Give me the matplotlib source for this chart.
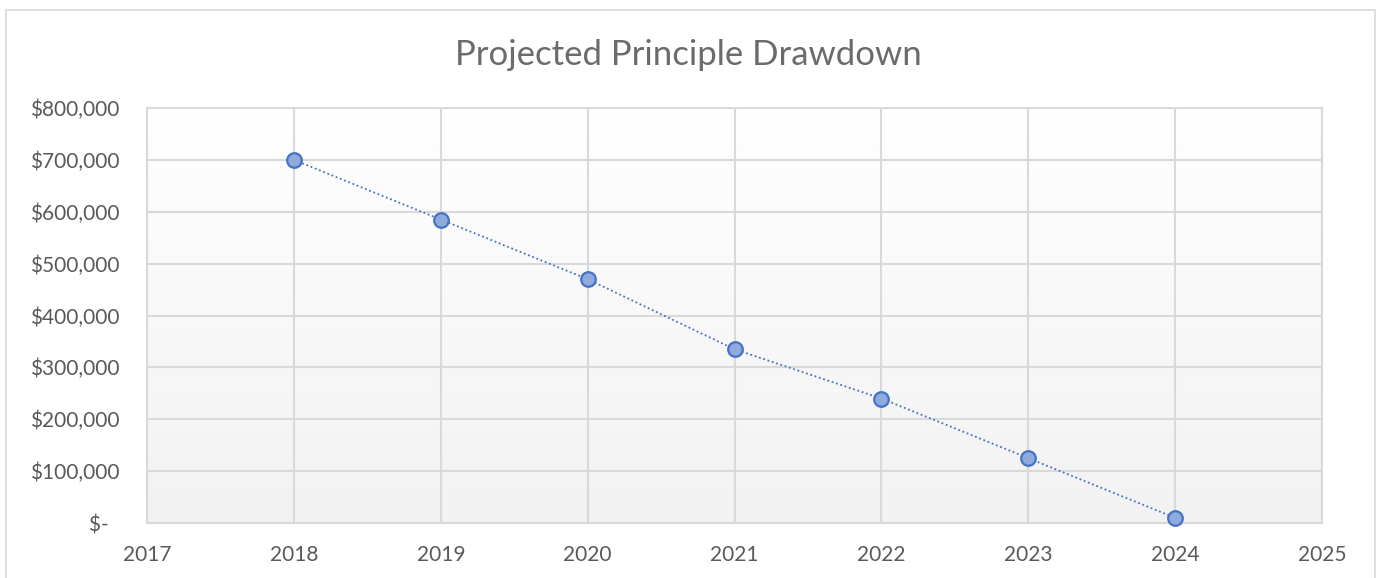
import matplotlib
matplotlib.use("Agg")
import matplotlib.pyplot as plt
import matplotlib.ticker as ticker
from matplotlib.patches import Rectangle
import numpy as np

YEARS = [2018, 2019, 2020, 2021, 2022, 2023, 2024]
PRINCIPLE = [700000, 585000, 470000, 335000, 240000, 125000, 10000]
X_TICKS = [2017, 2018, 2019, 2020, 2021, 2022, 2023, 2024, 2025]
Y_TICKS = [0, 100000, 200000, 300000, 400000, 500000, 600000, 700000, 800000]

GRID = "#d9d9d9"
TEXT = "#595959"


def money(v, _):
    if v == 0:
        return "$-  "
    return f"${v:,.0f}"


plt.rcParams["font.family"] = ["Lato", "DejaVu Sans"]

W, H = 1376, 578
fig = plt.figure(figsize=(W / 100, H / 100), dpi=100)

# outer chart border (bottom edge runs off the image)
fig.patches.append(Rectangle((6 / W, -0.05), (1375 - 6) / W, (H - 10) / H + 0.05,
                             transform=fig.transFigure, fill=False,
                             edgecolor=GRID, linewidth=1.2))

left, right, top, bottom = 147, 1322, 108, 523
ax = fig.add_axes([left / W, 1 - bottom / H, (right - left) / W, (bottom - top) / H])

ax.set_xlim(X_TICKS[0], X_TICKS[-1])
ax.set_ylim(Y_TICKS[0], Y_TICKS[-1])

# plot area gradient: white at top to light grey at bottom
grad = np.linspace(1.0, 0.0, 256).reshape(-1, 1)
ax.imshow(grad, extent=(X_TICKS[0], X_TICKS[-1], Y_TICKS[0], Y_TICKS[-1]),
          aspect="auto", cmap=matplotlib.colors.LinearSegmentedColormap.from_list(
              "bg", ["#f2f2f2", "#ffffff"]), zorder=0, origin="upper")

ax.set_xticks(X_TICKS)
ax.set_yticks(Y_TICKS)
ax.yaxis.set_major_formatter(ticker.FuncFormatter(money))
ax.grid(True, color=GRID, linewidth=1.5, zorder=1)
for s in ax.spines.values():
    s.set_color(GRID)
    s.set_linewidth(1.5)
ax.tick_params(length=0, labelsize=15, labelcolor=TEXT)
ax.tick_params(axis="x", pad=16)
ax.tick_params(axis="y", pad=20)

ax.plot(YEARS, PRINCIPLE, linestyle=(0, (1, 1.5)), color="#4472c4", linewidth=1.3,
        marker="o", markersize=10.5, markerfacecolor="#8faadc",
        markeredgecolor="#4472c4", markeredgewidth=1.6, zorder=3, clip_on=False)

fig.text(0.5, 1 - 55 / H, "Projected Principle Drawdown", ha="center", va="center",
         fontsize=25, color="#6b6b6b")

fig.savefig("out.png", dpi=100)
